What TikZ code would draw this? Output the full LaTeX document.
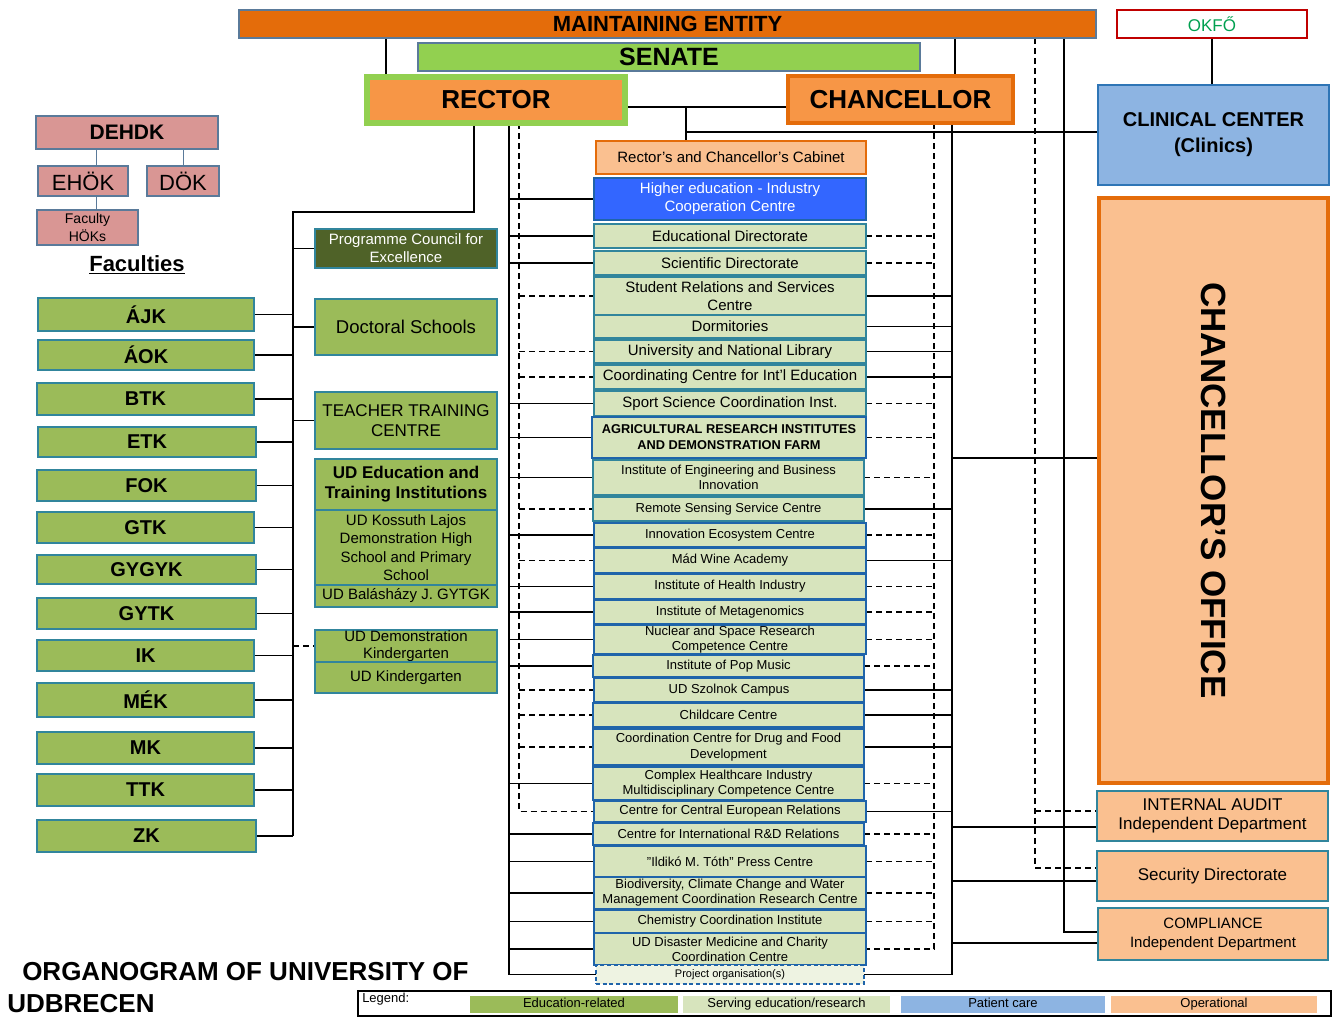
\documentclass[tikz,border=0pt]{standalone}
\usepackage{fontspec}
\setmainfont{Liberation Sans}
\usetikzlibrary{backgrounds}
\definecolor{maintc}{HTML}{E46C0A}
\definecolor{senc}{HTML}{92D050}
\definecolor{rectc}{HTML}{F79646}
\definecolor{lorc}{HTML}{FAC090}
\definecolor{edc}{HTML}{9BBB59}
\definecolor{servc}{HTML}{D7E4BD}
\definecolor{projc}{HTML}{EEF3E2}
\definecolor{patc}{HTML}{8DB4E2}
\definecolor{tealc}{HTML}{31859C}
\definecolor{bluec}{HTML}{2E75B6}
\definecolor{dbluec}{HTML}{1F64AA}
\definecolor{pinkc}{HTML}{D99694}
\definecolor{olivec}{HTML}{4F6228}
\definecolor{heic}{HTML}{3366FF}
\definecolor{okfoc}{HTML}{00A050}
\definecolor{redc}{HTML}{C00000}
\definecolor{greyb}{HTML}{5A7A9A}
\newcommand\fsz[2]{\fontsize{#1pt}{#2pt}\selectfont}
\newcommand\bx[7]{\node[#6, minimum width={(#4-#2)*0.75pt}, minimum height={(#5-#3)*0.75pt}] (#1) at ({(#2+#4)/2},{(#3+#5)/2}) {#7};}
\tikzset{
  x=0.75pt, y=-0.75pt,
  boxs/.style={draw, rectangle, inner sep=0pt, outer sep=0pt, align=center, text=black},
  facbox/.style={boxs, fill=edc, draw=tealc, line width=0.9pt, font=\bfseries\fsz{15}{18}},
  lgbox/.style={boxs, fill=edc, draw=tealc, line width=0.9pt},
  midbox/.style={boxs, fill=servc, draw=tealc, line width=1pt, font=\fsz{11.25}{13.5}},
  midboxb/.style={boxs, fill=servc, draw=dbluec, line width=1.3pt, font=\fsz{9.75}{11.5}},
  pinkbox/.style={boxs, fill=pinkc, draw=greyb, line width=0.9pt},
  opbox/.style={boxs, fill=lorc, draw=tealc, line width=1pt},
  swatch/.style={inner sep=0pt, outer sep=0pt, font=\fsz{9.75}{11}, text height=7pt, text depth=2pt},
  conn/.style={line width=0.85pt, draw=black},
  dconn/.style={conn, dash pattern=on 4.5pt off 3pt},
  thinc/.style={line width=0.7pt, draw=greyb},
}
\begin{document}
\begin{tikzpicture}
\useasboundingbox (0,0) rectangle (1338,1017);

% ---------- top ----------
\bx{maint}{239}{10}{1096}{38}{boxs, fill=maintc, draw=greyb, line width=0.8pt, font=\bfseries\fsz{16.5}{18}}{MAINTAINING ENTITY}
\bx{senate}{418}{43}{920}{71}{boxs, fill=senc, draw=greyb, line width=0.8pt, font=\bfseries\fsz{18.75}{20}}{SENATE}
\bx{rector}{367}{77}{625}{123}{boxs, fill=rectc, draw=senc, line width=3.9pt, font=\bfseries\fsz{19.5}{21}}{RECTOR}
\bx{chanc}{788}{76}{1013}{123}{boxs, fill=rectc, draw=maintc, line width=3.6pt, font=\bfseries\fsz{19.5}{21}}{CHANCELLOR}
\bx{okfo}{1117}{10}{1307}{38}{boxs, fill=white, draw=redc, line width=0.8pt, text=okfoc, font=\fsz{12.75}{14}}{OKFŐ}
\bx{clin}{1098}{85}{1329}{185}{boxs, fill=patc, draw=bluec, line width=2.2pt, font=\bfseries\fsz{15}{19.5}}{CLINICAL CENTER\\(Clinics)}
\bx{coff}{1099}{198}{1328}{783}{boxs, fill=lorc, draw=maintc, line width=3.6pt}{}
\node[rotate=-90, font=\bfseries\fsz{26.25}{28}] (coffl) at (coff.center) {CHANCELLOR’S OFFICE};
\bx{audit}{1097}{791}{1328}{841}{opbox, font=\fsz{12.75}{14.25}}{INTERNAL AUDIT\\Independent Department}
\bx{sec}{1097}{851}{1328}{901}{opbox, font=\fsz{12.75}{14.25}}{Security Directorate}
\bx{comp}{1098}{908}{1328}{960}{opbox, font=\fsz{11.25}{14.25}}{COMPLIANCE\\Independent Department}

% ---------- student bodies ----------
\bx{dehdk}{36}{116}{218}{149}{pinkbox, font=\bfseries\fsz{15.75}{17}}{DEHDK}
\bx{ehok}{38}{166}{128}{196}{pinkbox, font=\fsz{16.5}{18}}{EHÖK}
\bx{dok}{147}{166}{219}{196}{pinkbox, font=\fsz{16.5}{18}}{DÖK}
\bx{fhok}{37}{210}{138}{245}{pinkbox, font=\fsz{10.5}{13.5}}{Faculty\\HÖKs}
\node[font=\bfseries\fsz{16.5}{18}] (facl) at (137,265) {\underline{Faculties}};

% ---------- faculties ----------
\bx{ajk}{38}{298}{254}{331}{facbox}{ÁJK}
\bx{aok}{38}{340}{254}{370}{facbox}{ÁOK}
\bx{btk}{37}{383}{254}{415}{facbox}{BTK}
\bx{etk}{38}{427}{256}{457}{facbox}{ETK}
\bx{fok}{37}{470}{256}{501}{facbox}{FOK}
\bx{gtk}{37}{512}{254}{543}{facbox}{GTK}
\bx{gygyk}{37}{555}{256}{584}{facbox}{GYGYK}
\bx{gytk}{37}{598}{256}{629}{facbox}{GYTK}
\bx{ik}{37}{640}{254}{671}{facbox}{IK}
\bx{mek}{37}{683}{254}{717}{facbox}{MÉK}
\bx{mk}{37}{732}{254}{764}{facbox}{MK}
\bx{ttk}{37}{774}{254}{806}{facbox}{TTK}
\bx{zk}{37}{820}{256}{852}{facbox}{ZK}

% ---------- second column ----------
\bx{pce}{315}{229}{497}{268}{lgbox, fill=olivec, text=white, font=\fsz{11.25}{13.5}}{Programme Council for\\Excellence}
\bx{doc}{315}{299}{497}{355}{lgbox, font=\fsz{13.9}{16}}{Doctoral Schools}
\bx{ttc}{315}{392}{497}{449}{lgbox, font=\fsz{12.75}{15}}{TEACHER TRAINING\\CENTRE}
\bx{ude}{315}{459}{497}{510}{lgbox, font=\bfseries\fsz{12.75}{15}}{UD Education and\\Training Institutions}
\bx{udk}{315}{510}{497}{585}{lgbox, font=\fsz{11.25}{13.75}}{UD Kossuth Lajos\\Demonstration High\\School and Primary\\School}
\bx{udb}{315}{585}{497}{607}{lgbox, font=\fsz{11.25}{13}}{UD Balásházy J. GYTGK}
\bx{udd}{315}{630}{497}{662}{lgbox, font=\fsz{11.25}{13}}{UD Demonstration\\Kindergarten}
\bx{udkg}{315}{662}{497}{693}{lgbox, font=\fsz{11.25}{13}}{UD Kindergarten}

% ---------- middle column ----------
\bx{m1}{596}{141}{866}{174}{boxs, fill=lorc, draw=maintc, line width=2.2pt, font=\fsz{11.25}{13.5}}{Rector's and Chancellor's Cabinet}
\bx{m2}{594}{178}{866}{220}{boxs, fill=heic, draw=dbluec, line width=1pt, text=white, font=\fsz{11.25}{13.5}}{Higher education - Industry\\Cooperation Centre}
\bx{m3}{594}{224}{866}{248}{midbox}{Educational Directorate}
\bx{m4}{594}{251}{866}{275}{midbox}{Scientific Directorate}
\bx{m5}{594}{277}{866}{315}{midbox}{Student Relations and Services\\Centre}
\bx{m6}{594}{315}{866}{338}{midbox}{Dormitories}
\bx{m7}{594}{340}{866}{363}{midbox}{University and National Library}
\bx{m8}{594}{365}{866}{389}{midbox}{Coordinating Centre for Int'l Education}
\bx{m9}{594}{391}{866}{416}{midbox}{Sport Science Coordination Inst.}
\bx{m10}{592}{417}{866}{458}{midboxb, line width=2pt, font=\bfseries\fsz{9.6}{12}}{AGRICULTURAL RESEARCH INSTITUTES\\AND DEMONSTRATION FARM}
\bx{m11}{593}{460}{864}{495}{midbox, font=\fsz{9.75}{11.5}}{Institute of Engineering and Business\\Innovation}
\bx{m12}{593}{497}{864}{521}{midbox, font=\fsz{9.75}{11.5}}{Remote Sensing Service Centre}
\bx{m13}{594}{523}{866}{547}{midboxb}{Innovation Ecosystem Centre}
\bx{m14}{594}{548}{866}{573}{midboxb}{Mád Wine Academy}
\bx{m15}{594}{574}{866}{599}{midboxb}{Institute of Health Industry}
\bx{m16}{594}{600}{866}{624}{midboxb}{Institute of Metagenomics}
\bx{m17}{594}{625}{866}{654}{midboxb, font=\fsz{9.75}{11.2}}{Nuclear and Space Research\\Competence Centre}
\bx{m18}{593}{655}{864}{677}{midboxb}{Institute of Pop Music}
\bx{m19}{594}{678}{864}{702}{midboxb}{UD Szolnok Campus}
\bx{m20}{593}{703}{864}{727}{midboxb}{Childcare Centre}
\bx{m21}{593}{729}{864}{765}{midboxb}{Coordination Centre for Drug and Food\\Development}
\bx{m22}{593}{767}{864}{800}{midboxb}{Complex Healthcare Industry\\Multidisciplinary Competence Centre}
\bx{m23}{594}{801}{866}{822}{midboxb}{Centre for Central European Relations}
\bx{m24}{593}{823}{864}{845}{midboxb}{Centre for International R\&D Relations}
\bx{m25}{594}{846}{866}{877}{midboxb}{"Ildikó M. Tóth" Press Centre}
\bx{m26}{594}{877}{866}{909}{midboxb, font=\fsz{9.75}{11.2}}{Biodiversity, Climate Change and Water\\Management Coordination Research Centre}
\bx{m27}{594}{910}{866}{933}{midboxb}{Chemistry Coordination Institute}
\bx{m28}{594}{933}{866}{965}{midboxb, font=\fsz{9.75}{11.2}}{UD Disaster Medicine and Charity\\Coordination Centre}
\bx{m29}{596}{965}{864}{984}{boxs, fill=projc, draw=dbluec, line width=0.9pt, dash pattern=on 3pt off 2pt, font=\fsz{8.25}{10}}{Project organisation(s)}

% ---------- title ----------
\node[anchor=west, inner sep=0pt, font=\bfseries\fsz{19.5}{21}] (title1) at (22,972) {ORGANOGRAM OF UNIVERSITY OF};
\node[anchor=west, inner sep=0pt, font=\bfseries\fsz{19.5}{21}] (title2) at (7,1004) {UDBRECEN};

% ---------- legend ----------
\bx{leg}{358}{991}{1331}{1016}{boxs, fill=white, draw=black, line width=0.8pt}{}
\node[anchor=west, inner sep=0pt, font=\fsz{9.75}{11}] (legt) at (362,999) {Legend:};
\bx{lg1}{470}{996}{678}{1013}{swatch, fill=edc}{Education-related}
\bx{lg2}{683}{996}{890}{1013}{swatch, fill=servc}{Serving education/research}
\bx{lg3}{901}{996}{1105}{1013}{swatch, fill=patc}{Patient care}
\bx{lg4}{1111}{996}{1317}{1013}{swatch, fill=lorc}{Operational}

% ---------- connectors ----------
\begin{scope}[on background layer]
% maintaining entity
\coordinate (mrX) at (386,0);
\draw[conn] (maint.south -| mrX) -- (rector.north -| mrX);
\coordinate (mcX) at (955,0);
\draw[conn] (maint.south -| mcX) -- (chanc.north -| mcX);
\coordinate (mdX) at (1035,0);
\coordinate (secY) at (0,868);
\coordinate (audY) at (0,811);
\draw[dconn] (maint.south -| mdX) |- (sec.west |- secY);
\draw[dconn] (mdX |- audY) -- (audit.west |- audY);
\coordinate (msX) at (1064,0);
\coordinate (cmY) at (0,932);
\draw[conn] (maint.south -| msX) |- (comp.west |- cmY);
% OKFO
\draw[conn] (okfo.south) -- (okfo.south |- clin.north);
% rector - chancellor - cabinet - clinical
\coordinate (rc) at (686,107);
\draw[conn] (rector.east |- rc) -- (chanc.west |- rc);
\draw[conn] (rc) -- (rc |- m1.north);
\coordinate (cl) at (686,132);
\draw[conn] (cl) -- (clin.west |- cl);
% student bodies
\coordinate (ehX) at (96,0);
\draw[thinc] (dehdk.south -| ehX) -- (ehok.north -| ehX);
\draw[thinc] (dehdk.south -| dok) -- (dok.north);
\draw[thinc] (ehok.south -| ehX) -- (fhok.north -| ehX);
% faculties trunk
\coordinate (rf) at (474,0);
\coordinate (ft) at (293,212);
\draw[conn] (rector.south -| rf) |- (ft) -- (ft |- zk.east);
\foreach \n in {ajk,aok,btk,etk,fok,gtk,gygyk,gytk,ik,mek,mk,ttk,zk}
  {\draw[conn] (\n.east) -- (\n.east -| ft);}
\foreach \n in {pce,doc,ttc}
  {\draw[conn] (\n.west -| ft) -- (\n.west);}
\draw[dconn] (udd.west -| ft) -- (udd.west);
% rector to middle column
\coordinate (ls) at (509,0);
\coordinate (ld) at (519,0);
\draw[conn] (rector.south -| ls) |- (m29.west);
\draw[dconn] (rector.south -| ld) |- (m23.west);
\foreach \n in {m2,m3,m4,m9,m10,m11,m13,m15,m16,m17,m18,m22,m24,m25,m26,m27,m28}
  {\draw[conn] (\n.west -| ls) -- (\n.west);}
\foreach \n in {m5,m7,m8,m12,m14,m19,m20,m21}
  {\draw[dconn] (\n.west -| ld) -- (\n.west);}
% chancellor to middle column
\coordinate (cd) at (934,0);
\coordinate (cs) at (952,0);
\draw[dconn] (chanc.south -| cd) |- (m28.east);
\draw[conn] (chanc.south -| cs) |- (m29.east);
\foreach \n in {m3,m4,m9,m10,m11,m13,m15,m16,m17,m18,m22,m24,m25,m26,m27}
  {\draw[dconn] (\n.east) -- (\n.east -| cd);}
\foreach \n in {m5,m6,m7,m8,m12,m14,m19,m20,m21,m23}
  {\draw[conn] (\n.east) -- (\n.east -| cs);}
% chancellor to right column
\coordinate (coY) at (0,458);
\draw[conn] (cs |- coY) -- (coff.west |- coY);
\coordinate (auY) at (0,827);
\draw[conn] (cs |- auY) -- (audit.west |- auY);
\coordinate (seY) at (0,881);
\draw[conn] (cs |- seY) -- (sec.west |- seY);
\coordinate (cpY) at (0,943);
\draw[conn] (cs |- cpY) -- (comp.west |- cpY);
\end{scope}
\end{tikzpicture}
\end{document}
